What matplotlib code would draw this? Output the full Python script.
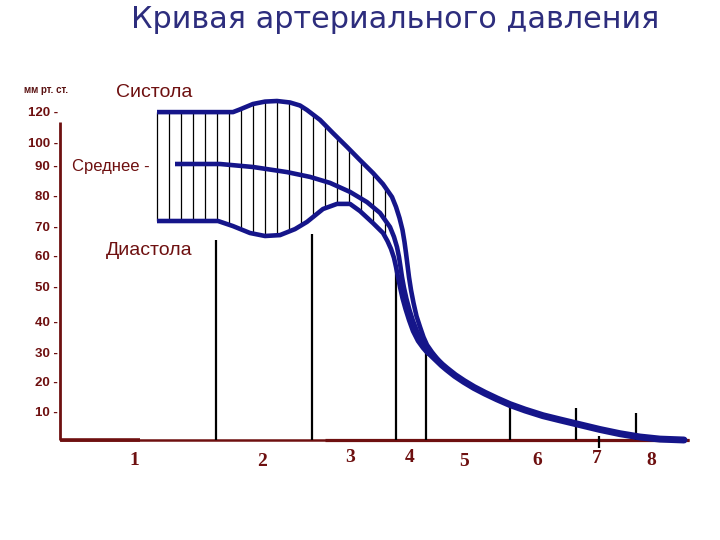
import matplotlib
matplotlib.use("Agg")
import matplotlib.pyplot as plt
import numpy as np

plt.rcParams['font.family'] = ['Liberation Sans', 'DejaVu Sans']

# ---- data (x: time units along the axis, y: pressure units of the chart) ----
sys_x = [157, 233, 240, 253, 265, 277, 290, 300, 307, 320, 333, 347, 360, 373, 383, 392, 396, 399.5, 402.5,
         404.5, 406, 407.5, 409, 411, 413.5, 416.5, 420, 423.5, 427, 432, 437, 442]
sys_y = [109.3, 109.3, 110.2, 112.0, 112.8, 113.0, 112.5, 111.5, 110.0, 106.7, 102.3, 97.7, 93.3, 89.0, 85.3,
         81.0, 77.7, 74.0, 70.0, 66.0, 62.3, 58.3, 54.3, 50.0, 45.7, 41.3, 37.7, 34.3, 31.7, 29.3, 27.2, 25.2]

mean_x = [175, 220, 253, 287, 310, 330, 350, 367, 380, 390, 394, 397, 399, 400.5, 402, 404, 406.5, 409.5,
          413, 417, 421.5, 427]
mean_y = [92.0, 92.0, 91.0, 89.3, 87.7, 85.7, 82.7, 79.3, 75.7, 71.0, 67.7, 64.3, 61.0, 57.7, 54.3, 50.7,
          47.0, 43.3, 39.7, 36.3, 33.3, 30.7]

dia_x = [157, 218, 233, 250, 265, 280, 295, 307, 323, 337, 350, 360, 373, 383, 387.5, 391, 394, 396, 398,
         400, 402.5, 405.5, 409, 413, 418, 423, 428]
dia_y = [73.0, 73.0, 71.3, 69.0, 68.0, 68.3, 70.3, 72.7, 77.0, 78.7, 78.7, 76.3, 72.3, 69.0, 66.3, 63.7,
         60.7, 57.7, 54.3, 51.0, 47.3, 43.7, 40.0, 36.3, 33.0, 30.7, 28.8]

tail_x = [427, 432, 437, 442, 447, 455, 464, 474, 485, 497, 510, 525, 543, 560, 580, 600, 620, 640, 660, 684]
tail_y = [30.0, 28.2, 26.6, 25.0, 23.6, 21.5, 19.5, 17.5, 15.6, 13.7, 11.8, 10.0, 8.1, 6.7, 5.1, 3.5, 2.1,
          1.0, 0.3, 0.0]

# segment divider lines (x, top value)
div_x = [216, 312, 396, 426, 510, 576, 636]
div_top = [66.7, 68.7, 58.3, 29.3, 11.0, 10.7, 9.0]

ytick_labels = ["120 -", "100 -", "90 -", "80 -", "70 -", "60 -", "50 -", "40 -", "30 -", "20 -", "10 -"]
ytick_pos = [108.9, 98.7, 91.0, 81.0, 70.7, 61.0, 50.7, 39.0, 28.7, 19.0, 9.0]

seg_labels = ["1", "2", "3", "4", "5", "6", "7", "8"]
seg_label_x = [134, 262, 350, 410, 464, 537, 597, 651]
seg_label_y = [-6.7, -7.0, -5.7, -6.0, -7.0, -6.7, -6.3, -6.7]


def join(xs, ys):
    """Attach the common falling tail after the last point of a curve."""
    tx = [x for x in tail_x if x > xs[-1]]
    ty = tail_y[len(tail_x) - len(tx):]
    return list(xs) + tx, list(ys) + ty


# ---- styling ----
NAVY = '#15158a'
DRED = '#6e1010'

fig = plt.figure(figsize=(7.2, 5.4), dpi=100)
ax = fig.add_axes([0, 0, 1, 1])
ax.set_xlim(0, 720)
ax.set_ylim((440 - 540) / 3, 440 / 3)
ax.axis('off')

# axes lines
ax.plot([60, 60], [0, 106], color=DRED, lw=2.0, solid_capstyle='butt', zorder=2)
ax.plot([60, 689], [0, 0], color=DRED, lw=1.8, solid_capstyle='butt', zorder=2)
ax.plot([60, 140], [0, 0], color=DRED, lw=2.6, solid_capstyle='butt', zorder=2)
ax.plot([325, 689], [0, 0], color=DRED, lw=2.3, solid_capstyle='butt', zorder=2)

# divider lines
ax.vlines(div_x, 0, div_top, colors='black', lw=1.6, zorder=3)
ax.vlines([599], -2.7, 1.3, colors='black', lw=1.6, zorder=3)

# hatch lines between diastolic and systolic curves
hx = np.arange(157, 390, 12.0)
h_top = np.interp(hx, sys_x, sys_y)
h_bot = np.interp(hx, dia_x, dia_y)
ax.vlines(hx, h_bot, h_top, colors='black', lw=0.9, zorder=3)

# curves
for xs, ys in [(sys_x, sys_y), (mean_x, mean_y), (dia_x, dia_y)]:
    cx, cy = join(xs, ys)
    ax.plot(cx, cy, color=NAVY, lw=3.3, solid_joinstyle='round', solid_capstyle='butt', zorder=4)
ax.plot(tail_x, tail_y, color=NAVY, lw=5.0, solid_joinstyle='round', solid_capstyle='round', zorder=4)

# texts
ax.text(395, 140.0, "Кривая артериального давления", color='#2d2d7d', fontsize=21.8,
        family='DejaVu Sans', ha='center', va='center')
ax.text(24, 116.7, "мм рт. ст.", color='#5a1212', fontsize=7, fontweight='bold',
        ha='left', va='center')
ax.text(116, 115.7, "Систола", color=DRED, fontsize=14, ha='left', va='center')
ax.text(72, 91.0, "Среднее -", color=DRED, fontsize=12, ha='left', va='center')
ax.text(106, 63.3, "Диастола", color=DRED, fontsize=14, ha='left', va='center')

for lab, yp in zip(ytick_labels, ytick_pos):
    ax.text(58, yp, lab, color=DRED, fontsize=9.5, fontweight='bold', ha='right', va='center')

for lab, xp, yp in zip(seg_labels, seg_label_x, seg_label_y):
    ax.text(xp, yp, lab, color=DRED, fontsize=14, fontweight='bold',
            family='Liberation Serif', ha='center', va='center')

fig.savefig('out.png', dpi=100)
